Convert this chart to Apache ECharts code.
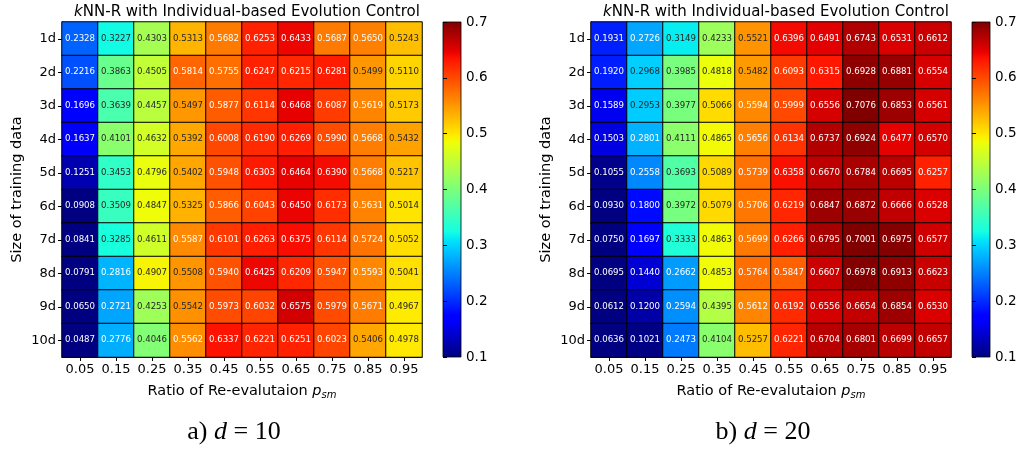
<!DOCTYPE html>
<html><head><meta charset="utf-8">
<script src="https://cdn.jsdelivr.net/npm/echarts@6/dist/echarts.min.js"></script>
<style>html,body{margin:0;padding:0;background:#fff}#c{width:1022px;height:450px}</style>
</head><body><div id="c"></div>
<script>
const rowLabels = ['1d','2d','3d','4d','5d','6d','7d','8d','9d','10d'];
const colLabels = ['0.05','0.15','0.25','0.35','0.45','0.55','0.65','0.75','0.85','0.95'];
const colorbarTicks = [0.1,0.2,0.3,0.4,0.5,0.6,0.7];
const vMin = 0.1, vMax = 0.7;

const valuesD10 = [
  [0.2328,0.3227,0.4303,0.5313,0.5682,0.6253,0.6433,0.5687,0.5650,0.5243],
  [0.2216,0.3863,0.4505,0.5814,0.5755,0.6247,0.6215,0.6281,0.5499,0.5110],
  [0.1696,0.3639,0.4457,0.5497,0.5877,0.6114,0.6468,0.6087,0.5619,0.5173],
  [0.1637,0.4101,0.4632,0.5392,0.6008,0.6190,0.6269,0.5990,0.5668,0.5432],
  [0.1251,0.3453,0.4796,0.5402,0.5948,0.6303,0.6464,0.6390,0.5668,0.5217],
  [0.0908,0.3509,0.4847,0.5325,0.5866,0.6043,0.6450,0.6173,0.5631,0.5014],
  [0.0841,0.3285,0.4611,0.5587,0.6101,0.6263,0.6375,0.6114,0.5724,0.5052],
  [0.0791,0.2816,0.4907,0.5508,0.5940,0.6425,0.6209,0.5947,0.5593,0.5041],
  [0.0650,0.2721,0.4253,0.5542,0.5973,0.6032,0.6575,0.5979,0.5671,0.4967],
  [0.0487,0.2776,0.4046,0.5562,0.6337,0.6221,0.6251,0.6023,0.5406,0.4978]
];
const valuesD20 = [
  [0.1931,0.2726,0.3149,0.4233,0.5521,0.6396,0.6491,0.6743,0.6531,0.6612],
  [0.1920,0.2968,0.3985,0.4818,0.5482,0.6093,0.6315,0.6928,0.6881,0.6554],
  [0.1589,0.2953,0.3977,0.5066,0.5594,0.5999,0.6556,0.7076,0.6853,0.6561],
  [0.1503,0.2801,0.4111,0.4865,0.5656,0.6134,0.6737,0.6924,0.6477,0.6570],
  [0.1055,0.2558,0.3693,0.5089,0.5739,0.6358,0.6670,0.6784,0.6695,0.6257],
  [0.0930,0.1800,0.3972,0.5079,0.5706,0.6219,0.6847,0.6872,0.6666,0.6528],
  [0.0750,0.1697,0.3333,0.4863,0.5699,0.6266,0.6795,0.7001,0.6975,0.6577],
  [0.0695,0.1440,0.2662,0.4853,0.5764,0.5847,0.6607,0.6978,0.6913,0.6623],
  [0.0612,0.1200,0.2594,0.4395,0.5612,0.6192,0.6556,0.6654,0.6854,0.6530],
  [0.0636,0.1021,0.2473,0.4104,0.5257,0.6221,0.6704,0.6801,0.6699,0.6657]
];

// matplotlib 'jet' colormap
function interpSeg(seg, x){
  for(let i=0;i<seg.length-1;i++){
    if(x>=seg[i][0] && x<=seg[i+1][0]){
      const t=(x-seg[i][0])/(seg[i+1][0]-seg[i][0]);
      return seg[i][1]+t*(seg[i+1][1]-seg[i][1]);
    }
  }
  return seg[seg.length-1][1];
}
const jetR=[[0,0],[0.35,0],[0.66,1],[0.89,1],[1,0.5]];
const jetG=[[0,0],[0.125,0],[0.375,1],[0.64,1],[0.91,0],[1,0]];
const jetB=[[0,0.5],[0.11,1],[0.34,1],[0.65,0],[1,0]];
function jetRGB(x){ x=Math.max(0,Math.min(1,x)); return [interpSeg(jetR,x),interpSeg(jetG,x),interpSeg(jetB,x)]; }
function toHex(c){ return '#'+c.map(v=>Math.round(v*255).toString(16).padStart(2,'0')).join(''); }
const jetColors=[]; for(let i=0;i<=128;i++) jetColors.push(toHex(jetRGB(i/128)));
function lum(c){ const l=c.map(v=>v<=0.03928?v/12.92:Math.pow((v+0.055)/1.055,2.4)); return 0.2126*l[0]+0.7152*l[1]+0.0722*l[2]; }

function buildData(vals){
  const out=[];
  vals.forEach((row,r)=>row.forEach((v,c)=>{
    const cv=Math.max(vMin,Math.min(vMax,v));
    const L=lum(jetRGB((cv-vMin)/(vMax-vMin)));
    out.push({value:[c,r,v,cv],label:{color:L>0.408?'#262626':'#ffffff'}});
  }));
  return out;
}

const FONT='DejaVu Sans';
const gridW=360, gridH=335, gridTop=22;
const panels=[{left:62, cb:443, data:valuesD10, cap:['a) ','d',' = 10'], capX:229},
              {left:591, cb:972, data:valuesD20, cap:['b) ','d',' = 20'], capX:758}];

const option={animation:false, backgroundColor:'#fff', textStyle:{fontFamily:FONT},
  title:[], grid:[], xAxis:[], yAxis:[], series:[], visualMap:[], graphic:[]};

const gradStops=[]; for(let i=0;i<=64;i++){ gradStops.push({offset:i/64,color:toHex(jetRGB(1-i/64))}); }

panels.forEach((p,k)=>{
  const gi=option.grid.length;
  option.grid.push({left:p.left, top:gridTop, width:gridW, height:gridH, containLabel:false});
  option.xAxis.push({type:'category', gridIndex:gi, data:colLabels,
    axisLine:{show:true,lineStyle:{color:'#000',width:1}},
    axisTick:{show:true,alignWithLabel:true,interval:0,length:4,lineStyle:{color:'#000'}},
    axisLabel:{color:'#000',fontSize:13,fontFamily:FONT,margin:6,interval:0},
    splitLine:{show:false},
    name:'{n|Ratio of Re-evalutaion }{i|p}{s|sm}', nameLocation:'middle', nameGap:26,
    nameTextStyle:{color:'#000',fontFamily:FONT,fontSize:14.5,
      rich:{n:{fontSize:14.5,fontFamily:FONT,color:'#000'},
            i:{fontSize:14.5,fontStyle:'italic',fontFamily:FONT,color:'#000'},
            s:{fontSize:10,fontStyle:'italic',fontFamily:FONT,color:'#000',padding:[7,0,0,0]}}}});
  option.yAxis.push({type:'category', gridIndex:gi, data:rowLabels, inverse:true,
    axisLine:{show:true,lineStyle:{color:'#000',width:1}},
    axisTick:{show:true,alignWithLabel:true,interval:0,length:4,lineStyle:{color:'#000'}},
    axisLabel:{color:'#000',fontSize:13,fontFamily:FONT,margin:6,interval:0},
    splitLine:{show:false},
    name:'Size of training data', nameLocation:'middle', nameGap:37,
    nameTextStyle:{color:'#000',fontFamily:FONT,fontSize:14.5}});
  const si=option.series.length;
  option.series.push({type:'heatmap', xAxisIndex:gi, yAxisIndex:gi, data:buildData(p.data),
    itemStyle:{borderColor:'#000',borderWidth:1},
    label:{show:true,fontSize:8.6,fontFamily:FONT,formatter:(d)=>d.value[2].toFixed(4)},
    emphasis:{disabled:true}});
  option.visualMap.push({type:'continuous', show:false, min:vMin, max:vMax, dimension:3,
    seriesIndex:si, inRange:{color:jetColors}});
  // colorbar axis
  const cgi=option.grid.length;
  option.grid.push({left:p.cb, top:gridTop, width:18, height:gridH});
  option.xAxis.push({type:'value', gridIndex:cgi, min:0, max:1, show:false});
  option.yAxis.push({type:'value', gridIndex:cgi, min:vMin, max:vMax, interval:0.1, position:'right',
    axisLine:{show:false}, splitLine:{show:false},
    axisTick:{show:true,length:4,lineStyle:{color:'#000'}},
    axisLabel:{color:'#000',fontSize:13.5,fontFamily:FONT,margin:5,formatter:v=>v.toFixed(1)}});
  option.series.push({type:'line', xAxisIndex:cgi, yAxisIndex:cgi, data:[], silent:true});
  option.graphic.push({type:'rect', shape:{x:p.cb, y:gridTop, width:18, height:gridH}, z:-1,
    style:{fill:{type:'linear',x:0,y:0,x2:0,y2:1,colorStops:gradStops}, stroke:'#000', lineWidth:0.8}});
  option.title.push({text:'{i|k}{n|NN-R with Individual-based Evolution Control}', left:p.left+gridW/2, top:0, textAlign:'center',
    textStyle:{fontWeight:'normal',rich:{i:{fontStyle:'italic',fontWeight:'normal',fontSize:15,fontFamily:FONT,color:'#000'},
                     n:{fontSize:15,fontWeight:'normal',fontFamily:FONT,color:'#000'}}}});
  option.title.push({text:'{n|'+p.cap[0]+'}{i|'+p.cap[1]+'}{n|'+p.cap[2]+'}', left:p.capX, top:414, textAlign:'center',
    textStyle:{fontWeight:'normal',rich:{n:{fontSize:26,fontWeight:'normal',fontFamily:'Liberation Serif',color:'#000'},
                     i:{fontSize:26,fontStyle:'italic',fontWeight:'normal',fontFamily:'Liberation Serif',color:'#000'}}}});
});

const chart=echarts.init(document.getElementById('c'),null,{renderer:'canvas'});
chart.setOption(option);
</script></body></html>
